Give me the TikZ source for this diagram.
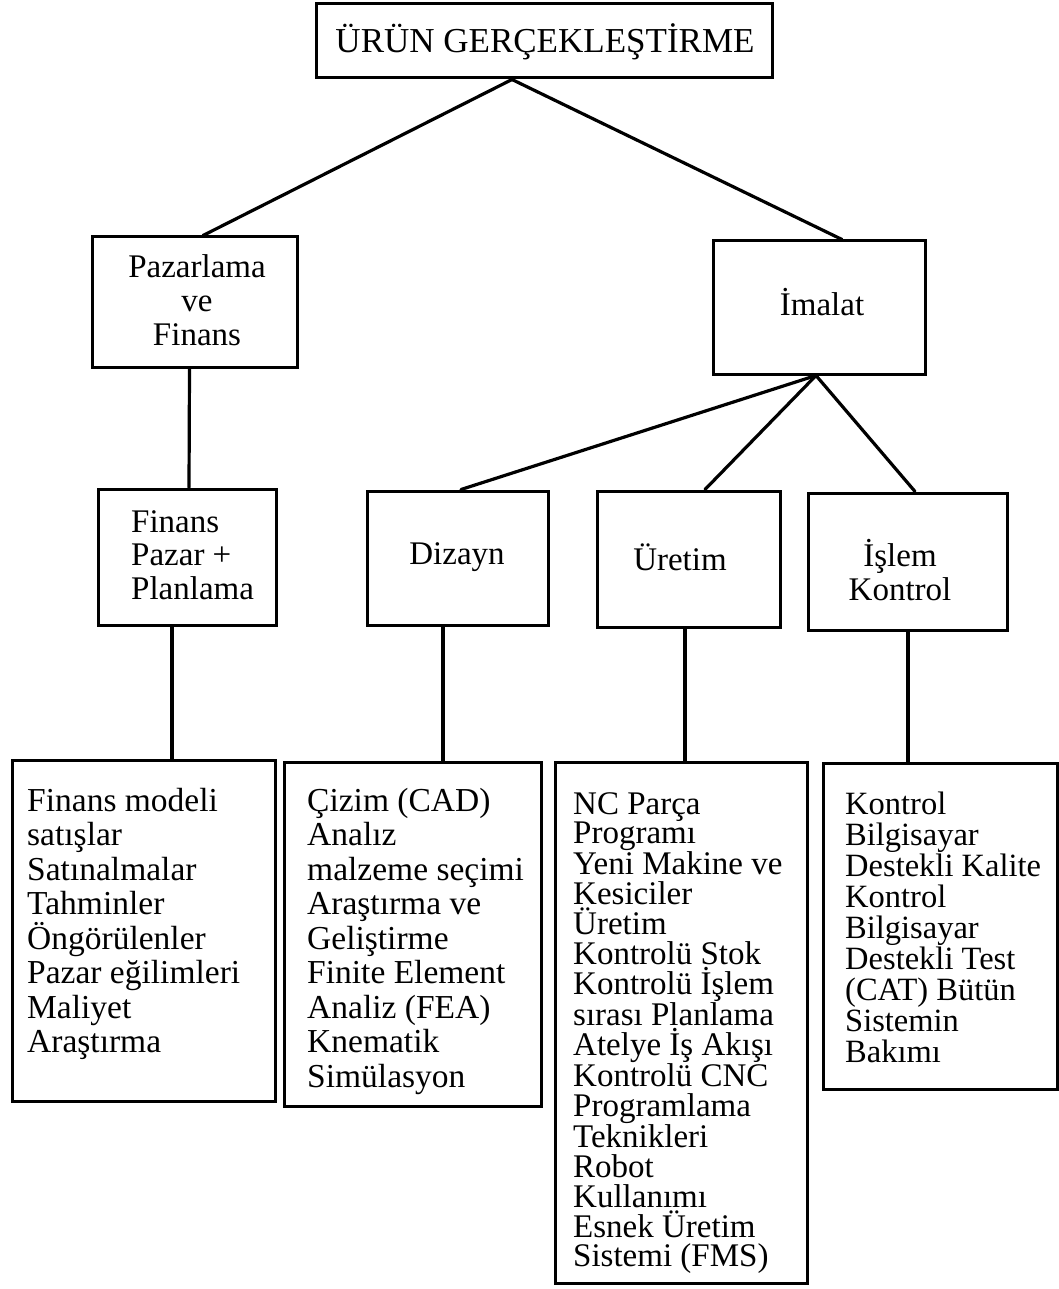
\documentclass[tikz,border=0pt]{standalone}
\usepackage{fontspec}
\setmainfont{Liberation Serif}
\usetikzlibrary{calc}
\begin{document}
\begin{tikzpicture}[x=1pt,y=-1pt,
  box/.style={draw, line width=3pt, inner sep=0pt},
  conn/.style={line width=3.2pt, line cap=round},
  mid/.style={font=\fontsize{33}{34}\selectfont, inner sep=0pt, align=center},
  midl/.style={font=\fontsize{33}{33.5}\selectfont, inner sep=0pt, align=left, anchor=west},
  lst/.style={font=\fontsize{33.5}{34.5}\selectfont, inner sep=0pt, align=left, anchor=north west}]
\useasboundingbox (0,0) rectangle (1059,1289);

% boxes
\node[box, minimum width=456pt, minimum height=74pt] (top) at (544,41) {};
\node[box, minimum width=205pt, minimum height=130pt] (paz) at (194.5,302) {};
\node[box, minimum width=212pt, minimum height=133pt] (ima) at (819,307.5) {};
\node[box, minimum width=178pt, minimum height=136pt] (fin) at (187,557) {};
\node[box, minimum width=181pt, minimum height=134pt] (diz) at (457.5,558) {};
\node[box, minimum width=183pt, minimum height=136pt] (ure) at (688.5,559) {};
\node[box, minimum width=199pt, minimum height=137pt] (isl) at (907.5,561.5) {};
\node[box, minimum width=263pt, minimum height=341pt] (b1) at (143.5,930.5) {};
\node[box, minimum width=257pt, minimum height=344pt] (b2) at (412.5,934) {};
\node[box, minimum width=252pt, minimum height=521pt] (b3) at (681,1022.5) {};
\node[box, minimum width=234pt, minimum height=326pt] (b4) at (940,926) {};

% texts
\node[font=\fontsize{35}{36}\selectfont, inner sep=0pt] (topt) at (545,42) {ÜRÜN GERÇEKLEŞTİRME};
\node[mid] (pazt) at (197,300) {Pazarlama\\ve\\Finans};
\node[mid] (imat) at (822,302) {İmalat};
\node[midl] (fint) at (131,555) {Finans\\Pazar +\\Planlama};
\node[mid] (dizt) at (457,557) {Dizayn};
\node[mid] (uret) at (680,557) {Üretim};
\node[mid] (islt) at (900,570) {İşlem\\Kontrol};

\node[lst] (b1t) at (27,788) {Finans modeli\\satışlar\\Satınalmalar\\Tahminler\\Öngörülenler\\Pazar eğilimleri\\Maliyet\\Araştırma};
\node[lst] (b2t) at (307,788) {Çizim (CAD)\\Analız\\malzeme seçimi\\Araştırma ve\\Geliştirme\\Finite Element\\Analiz (FEA)\\Knematik\\Simülasyon};
\node[lst, font=\fontsize{33}{29.9}\selectfont] (b3t) at (573,792) {NC Parça\\Programı\\Yeni Makine ve\\Kesiciler\\Üretim\\Kontrolü Stok\\Kontrolü İşlem\\sırası Planlama\\Atelye İş Akışı\\Kontrolü CNC\\Programlama\\Teknikleri\\Robot\\Kullanımı\\Esnek Üretim\\Sistemi (FMS)};
\node[lst, font=\fontsize{32.5}{31}\selectfont] (b4t) at (845,792) {Kontrol\\Bilgisayar\\Destekli Kalite\\Kontrol\\Bilgisayar\\Destekli Test\\(CAT) Bütün\\Sistemin\\Bakımı};

% connectors
\draw[conn] ([xshift=-32pt]top.south) -- ([xshift=8.5pt]paz.north);
\draw[conn] ([xshift=-32pt]top.south) -- ([xshift=23pt]ima.north);
\draw[conn] ([xshift=-5pt]paz.south) -- ([xshift=2pt]fin.north);
\draw[conn] ([xshift=-3pt]ima.south) -- ([xshift=3.5pt]diz.north);
\draw[conn] ([xshift=-3pt]ima.south) -- ([xshift=16.5pt]ure.north);
\draw[conn] ([xshift=-3pt]ima.south) -- ([xshift=7.5pt]isl.north);
\draw[conn] ([xshift=-15pt]fin.south) -- ([xshift=28.5pt]b1.north);
\draw[conn] ([xshift=-14.5pt]diz.south) -- ([xshift=30.5pt]b2.north);
\draw[conn] ([xshift=-3.5pt]ure.south) -- ([xshift=4pt]b3.north);
\draw[conn] ([xshift=0.5pt]isl.south) -- ([xshift=-32pt]b4.north);
\end{tikzpicture}
\end{document}
